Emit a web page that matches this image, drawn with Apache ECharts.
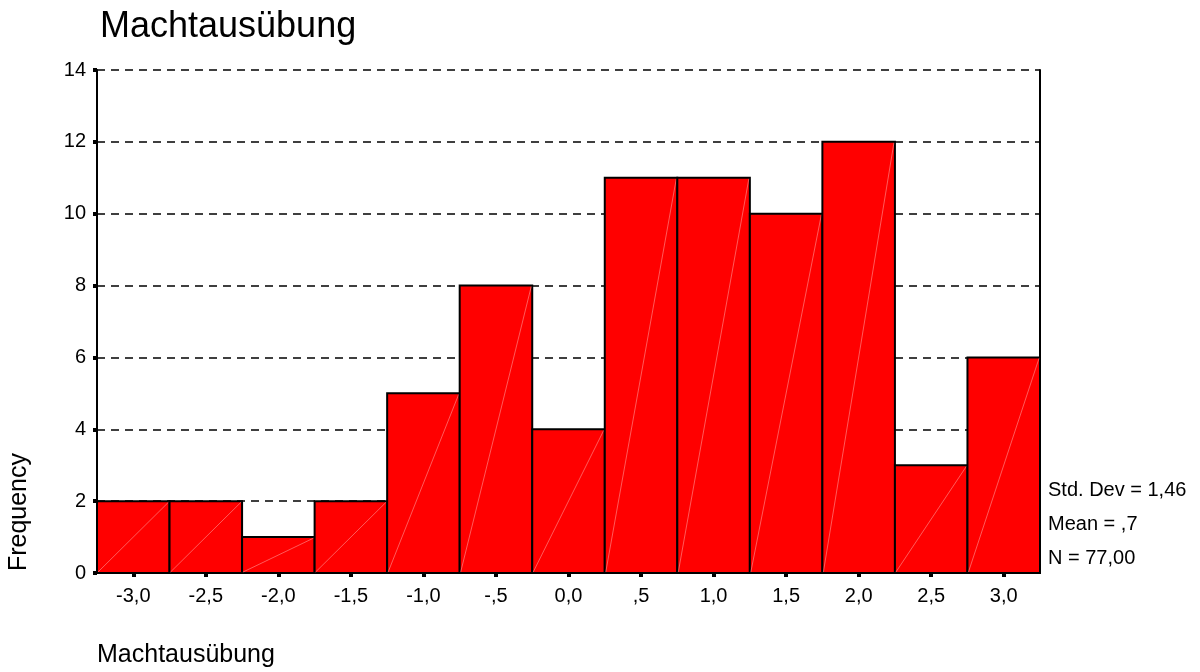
<!DOCTYPE html>
<html>
<head>
<meta charset="utf-8">
<script src="https://cdn.jsdelivr.net/npm/echarts@6/dist/echarts.min.js"></script>
<style>
  html, body { margin: 0; padding: 0; background: #fff; }
  #chart { width: 1200px; height: 672px; }
</style>
</head>
<body>
<div id="chart"></div>
<script>
// Histogramm: Machtausübung
var categories = ["-3,0", "-2,5", "-2,0", "-1,5", "-1,0", "-,5", "0,0", ",5", "1,0", "1,5", "2,0", "2,5", "3,0"];
var frequencies = [2, 2, 1, 2, 5, 8, 4, 11, 11, 10, 12, 3, 6];
var yTicks = { min: 0, max: 14, interval: 2 };
var statsLines = ["Std. Dev = 1,46", "Mean = ,7", "N = 77,00"];

var font = "Liberation Sans, Arial, sans-serif";
var chart = echarts.init(document.getElementById("chart"));

var option = {
  backgroundColor: "#fff",
  animation: false,
  textStyle: { fontFamily: font },
  title: {
    text: "Machtausübung",
    left: 95,
    top: 4,
    textStyle: { fontSize: 36, fontWeight: "normal", color: "#000", fontFamily: font }
  },
  grid: { left: 97, right: 160, top: 70, bottom: 99 },
  xAxis: {
    type: "category",
    data: categories,
    boundaryGap: true,
    axisLine: { show: true, lineStyle: { color: "#000", width: 2 } },
    axisTick: { show: true, alignWithLabel: true, length: 4, lineStyle: { color: "#000", width: 4 } },
    axisLabel: { color: "#000", fontSize: 20, margin: 13, fontFamily: font },
    splitLine: { show: false }
  },
  yAxis: [
    {
      type: "value",
      min: yTicks.min,
      max: yTicks.max,
      interval: yTicks.interval,
      axisLine: { show: true, lineStyle: { color: "#000", width: 2 } },
      axisTick: { show: true, length: 4, lineStyle: { color: "#000", width: 4 } },
      axisLabel: { color: "#000", fontSize: 20, margin: 11, fontFamily: font },
      splitLine: { show: true, lineStyle: { color: "#000", type: [8, 6], width: 1.5 } }
    },
    {
      type: "value",
      position: "right",
      min: yTicks.min,
      max: yTicks.max,
      interval: yTicks.interval,
      axisLine: { show: true, lineStyle: { color: "#000", width: 2 } },
      axisTick: { show: false },
      axisLabel: { show: false },
      splitLine: { show: false }
    }
  ],
  graphic: [
    {
      type: "text",
      left: 7,
      top: 453,
      rotation: Math.PI / 2,
      style: { text: "Frequency", fill: "#000", font: "25px " + font }
    },
    {
      type: "text",
      left: 97,
      top: 643,
      style: { text: "Machtausübung", fill: "#000", font: "25px " + font }
    },
    {
      type: "text",
      left: 1048,
      top: 473,
      style: { text: statsLines.join("\n"), fill: "#000", font: "20px " + font, lineHeight: 34 }
    }
  ],
  series: [
    {
      type: "custom",
      z: 5,
      renderItem: function (params, api) {
        var idx = api.value(0);
        var val = api.value(1);
        var top = api.coord([idx, val]);
        var base = api.coord([idx, 0]);
        var w = api.size([1, 0])[0];
        var x0 = base[0] - w / 2;
        var x1 = base[0] + w / 2;
        return {
          type: "group",
          children: [
            {
              type: "rect",
              shape: { x: x0, y: top[1], width: w, height: base[1] - top[1] },
              style: { fill: "#ff0000", stroke: "#000", lineWidth: 2 }
            },
            {
              type: "line",
              shape: { x1: x0 + 1, y1: base[1] - 1, x2: x1 - 1, y2: top[1] + 1 },
              style: { stroke: "rgba(255,190,190,0.8)", lineWidth: 0.6 }
            }
          ]
        };
      },
      encode: { x: 0, y: 1 },
      // custom series needs [index, value] pairs
      data: frequencies.map(function (v, i) { return [i, v]; })
    }
  ]
};

chart.setOption(option);
</script>
</body>
</html>
